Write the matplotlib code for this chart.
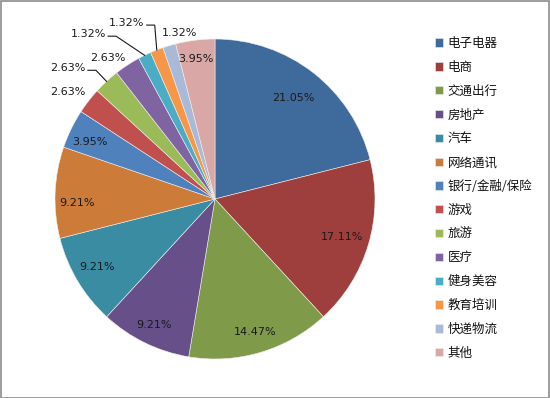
import numpy as np
import matplotlib
matplotlib.use('Agg')
import matplotlib.pyplot as plt
from matplotlib.patches import Rectangle

plt.rcParams['font.family'] = ['Noto Sans CJK SC', 'DejaVu Sans']

# ------------------------
# data
# ------------------------
categories = ['电子电器', '电商', '交通出行', '房地产', '汽车', '网络通讯',
              '银行/金融/保险', '游戏', '旅游', '医疗', '健身美容', '教育培训',
              '快递物流', '其他']
shares = [21.05, 17.11, 14.47, 9.21, 9.21, 9.21, 3.95, 2.63, 2.63, 2.63,
          1.32, 1.32, 1.32, 3.95]
colors = ['#3F6A9C', '#9E3F3D', '#7F9A48', '#67508A', '#3A8CA3', '#CC7B38',
          '#4F81BD', '#C0504D', '#9BBB59', '#8064A2', '#4BACC6', '#F79646',
          '#A9BAD8', '#D9A7A6']

# label placement: (angle shift from slice middle in deg, radius, leader line?)
label_pos = [(0, 0.80, False), (0, 0.83, False), (0, 0.87, False),
             (0, 0.875, False), (-1, 0.85, False), (4, 0.86, False),
             (1.5, 0.86, False), (1.9, 1.14, False), (5.7, 1.23, True),
             (4.1, 1.11, False), (11.5, 1.30, True), (5.3, 1.23, True),
             (-4.4, 1.06, False), (0.6, 0.88, False)]

# ------------------------

W, H = 550, 398
cx, cy, R = 215, 199, 160   # pie centre / radius in pixels

fig = plt.figure(figsize=(W / 100, H / 100), dpi=100)
ax = fig.add_axes([0, 0, 1, 1])

wedges, _ = ax.pie(shares, colors=colors, startangle=90, counterclock=False,
                   radius=1, center=(0, 0),
                   wedgeprops=dict(edgecolor='#f0f0f0', linewidth=0.4))

ax.set_xlim(-cx / R, (W - cx) / R)
ax.set_ylim(-(H - cy) / R, cy / R)
ax.set_aspect('auto')
ax.axis('off')

for w, val, (dth, r, leader) in zip(wedges, shares, label_pos):
    mid = 0.5 * (w.theta1 + w.theta2)
    ang = np.deg2rad(mid + dth)
    tx, ty = r * np.cos(ang), r * np.sin(ang)
    ax.text(tx, ty, '%.2f%%' % val, ha='center', va='center', fontsize=8,
            family='DejaVu Sans', color='#1a1a1a')
    if leader:
        ex, ey = np.cos(np.deg2rad(mid)), np.sin(np.deg2rad(mid))
        x0 = tx + 20 / R
        x1 = x0 + 8 / R
        yl = ty - 2 / R
        ax.plot([x0, x1, ex], [yl, yl, ey], color='#1a1a1a', lw=0.8,
                solid_joinstyle='miter')

leg = ax.legend(wedges, categories, loc='upper left',
                bbox_to_anchor=(435 / W, 1 - 37 / H),
                bbox_transform=fig.transFigure, frameon=False, fontsize=9,
                handlelength=0.65, handleheight=0.65, handletextpad=0.35,
                labelspacing=0.865, borderpad=0, borderaxespad=0)
for t in leg.get_texts():
    t.set_color('#111111')

fig.add_artist(Rectangle((0.5 / W, 0.5 / H), 1 - 1.5 / W, 1 - 1.5 / H,
                         transform=fig.transFigure, fill=False,
                         edgecolor='#8c8c8c', lw=1.2))

fig.savefig('out.png', dpi=100)
